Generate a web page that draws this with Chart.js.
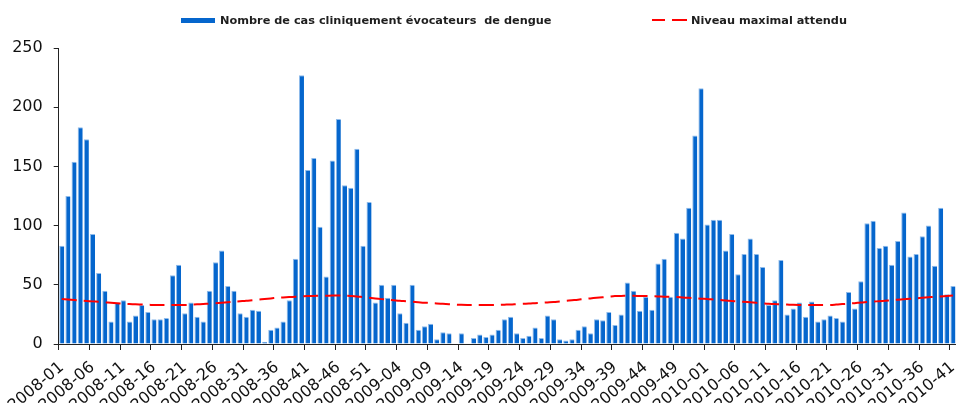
<!DOCTYPE html>
<html>
<head>
<meta charset="utf-8">
<script src="https://cdn.jsdelivr.net/npm/chart.js@4"></script>
<style>
  body { margin: 0; background: #fff; }
  #wrap { position: relative; width: 956px; height: 403px; }
  .leg { position: absolute; font: bold 11.3px "DejaVu Sans", sans-serif; color: #1e1e1e; line-height: 15px; white-space: pre; }
  .box { position: absolute; }
</style>
</head>
<body>
<div id="wrap">
  <canvas id="grafico"></canvas>
  <div class="box" style="left:181px;top:18px;width:34px;height:5px;background:#0566cd"></div>
  <div class="leg" style="left:220px;top:13px">Nombre de cas cliniquement évocateurs  de dengue</div>
  <div class="box" style="left:652px;top:19px;width:13px;height:2px;background:#ff0000"></div>
  <div class="box" style="left:672px;top:19px;width:15px;height:2px;background:#ff0000"></div>
  <div class="leg" style="left:691px;top:13px">Niveau maximal attendu</div>
</div>
<script>
// semaines par année (2008: 52, 2009: 53, 2010: jusqu'à 41)
let annees = [2008, 2009, 2010];
let semainesParAnnee = [52, 53, 41];

// nombre de cas cliniquement évocateurs, par semaine
let cas2008 = [83, 125, 154, 183, 173, 93, 60, 45, 19, 35,
               37, 19, 24, 33, 27, 21, 21, 22, 58, 67,
               26, 35, 23, 19, 45, 69, 79, 49, 45, 26,
               23, 29, 28, 2, 12, 14, 19, 37, 72, 227,
               147, 157, 99, 57, 155, 190, 134, 132, 165, 83,
               120, 35];
let cas2009 = [50, 39, 50, 26, 18, 50, 12, 15, 17, 4,
               10, 9, 0, 9, 0, 5, 8, 6, 8, 12,
               21, 23, 9, 5, 7, 14, 5, 24, 21, 4,
               3, 4, 12, 15, 9, 21, 20, 27, 16, 25,
               52, 45, 28, 40, 29, 68, 72, 40, 94, 89,
               115, 176, 216];
let cas2010 = [101, 105, 105, 79, 93, 59, 76, 89, 76, 65,
               33, 37, 71, 25, 30, 35, 23, 36, 19, 21,
               24, 22, 19, 44, 30, 53, 102, 104, 81, 83,
               67, 87, 111, 74, 76, 91, 100, 66, 115, 42,
               49];

// niveau maximal attendu (courbe)
let niveau2008 = [38, 37.6, 37.2, 36.8, 36.4, 36, 35.6, 35.2, 34.8, 34.4,
                  34, 33.8, 33.5, 33.3, 33.1, 33, 33, 33, 33, 33,
                  33, 33.2, 33.5, 33.8, 34.1, 34.5, 34.9, 35.3, 35.7, 36.1,
                  36.5, 37, 37.5, 38, 38.5, 39, 39.3, 39.6, 39.9, 40.2,
                  40.5, 40.6, 40.7, 40.8, 40.9, 41, 40.9, 40.6, 40.2, 39.6,
                  39, 38.4];
let niveau2009 = [37.9, 37.5, 37, 36.5, 36.1, 35.7, 35.3, 34.9, 34.6, 34.2,
                  33.9, 33.6, 33.3, 33.1, 33, 33, 33, 33, 33, 33,
                  33.2, 33.4, 33.7, 34, 34.2, 34.5, 34.8, 35.1, 35.4, 35.9,
                  36.4, 36.9, 37.4, 38, 38.5, 39, 39.5, 40, 40.5, 40.6,
                  40.7, 40.7, 40.6, 40.5, 40.4, 40.2, 40, 39.8, 39.6, 39.3,
                  39, 38.7, 38.3];
let niveau2010 = [38, 37.6, 37.2, 36.8, 36.4, 36, 35.6, 35.2, 34.8, 34.4,
                  34, 33.8, 33.5, 33.3, 33.1, 33, 33, 33, 33, 33,
                  33, 33.3, 33.7, 34.1, 34.5, 35, 35.4, 35.8, 36.2, 36.6,
                  37, 37.4, 37.8, 38.2, 38.6, 39, 39.4, 39.8, 40.2, 40.6,
                  41];

let yTicks = [0, 50, 100, 150, 200, 250];

let semaines = [];
annees.forEach((a, i) => {
    for (let s = 1; s <= semainesParAnnee[i]; s++) {
        semaines.push(a + '-' + String(s).padStart(2, '0'));
    }
});
let cas = [...cas2008, ...cas2009, ...cas2010];
let niveau = [...niveau2008, ...niveau2009, ...niveau2010];

new Chart(document.getElementById('grafico'), {
    type: 'bar',
    data: {
        labels: semaines,
        datasets: [{
            type: 'line',
            label: 'Niveau maximal attendu',
            data: niveau,
            borderColor: '#ff0000',
            borderWidth: 2,
            borderDash: [15, 7],
            pointRadius: 0,
            tension: 0.4,
            fill: false,
            order: 0
        }, {
            label: 'Nombre de cas cliniquement évocateurs  de dengue',
            data: cas,
            backgroundColor: '#0566cd',
            borderColor: '#8fbbea',
            borderWidth: { left: 1, top: 1, right: 0, bottom: 0 },
            borderSkipped: false,
            barPercentage: 0.82,
            categoryPercentage: 1,
            order: 1
        }]
    },
    options: {
        responsive: true,
        maintainAspectRatio: false,
        animation: false,
        layout: { padding: { top: 48, right: 0, bottom: 0, left: 0 } },
        plugins: {
            legend: { display: false },
            tooltip: { enabled: false }
        },
        scales: {
            x: {
                offset: true,
                border: { display: true, color: '#222', width: 1 },
                grid: {
                    offset: true,
                    drawOnChartArea: false,
                    drawTicks: true,
                    tickLength: 6,
                    tickColor: ctx => ctx.index % 5 === 0 ? '#222' : 'rgba(0,0,0,0)'
                },
                ticks: {
                    autoSkip: false,
                    minRotation: 40,
                    maxRotation: 40,
                    labelOffset: 0,
                    padding: 8,
                    color: '#111',
                    font: { family: 'DejaVu Sans', size: 16 },
                    callback: function (v, i) { return i % 5 === 0 ? semaines[i] : ''; }
                },
                afterFit: s => { s.height = 59; s.paddingLeft = 0; s.paddingRight = 0; }
            },
            y: {
                min: 0,
                max: 250,
                border: { display: true, color: '#222', width: 1 },
                grid: { drawOnChartArea: false, drawTicks: true, tickLength: 5, tickColor: '#222' },
                afterBuildTicks: s => { s.ticks = yTicks.map(v => ({ value: v })); },
                ticks: {
                    padding: 11,
                    color: '#111',
                    font: { family: 'DejaVu Sans', size: 16 }
                },
                afterFit: s => { s.width = 58.7; }
            }
        }
    }
});
</script>
</body>
</html>
